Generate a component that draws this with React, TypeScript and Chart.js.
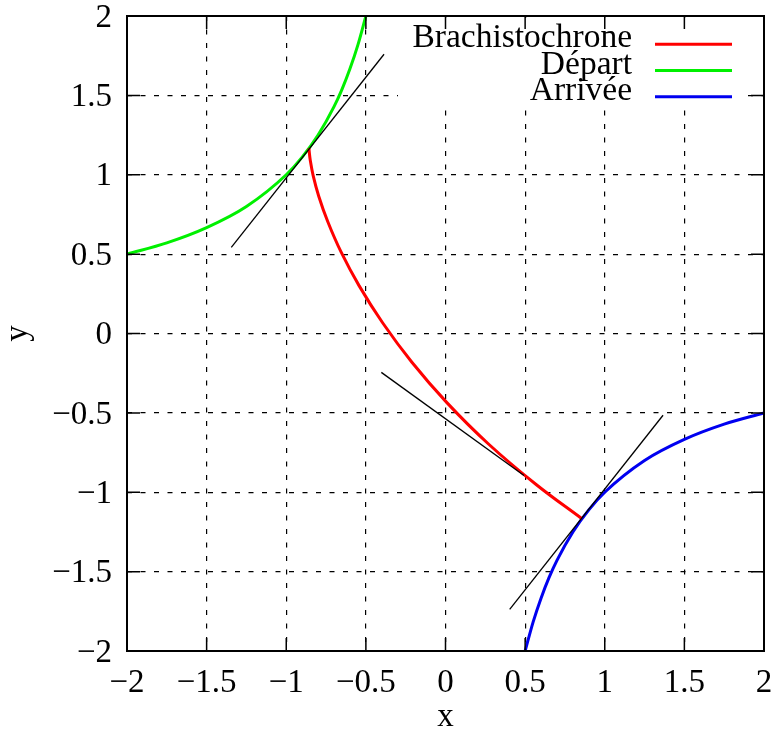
import React, { useEffect, useRef } from "react";
import { Chart, registerables } from "chart.js";

Chart.register(...registerables);

// ---- data ----
const xTickValues = [-2, -1.5, -1, -0.5, 0, 0.5, 1, 1.5, 2];
const yTickValues = [-2, -1.5, -1, -0.5, 0, 0.5, 1, 1.5, 2];
const seriesLabels = ["Brachistochrone", "Départ", "Arrivée"];
const seriesColors = ["#ff0000", "#00f000", "#0000f0"];

const brachX = [-0.857, -0.856, -0.849, -0.831, -0.796, -0.739, -0.656, -0.542, -0.394, -0.211, 0.01, 0.27, 0.569, 0.857];
const brachY = [1.167, 1.148, 1.09, 0.995, 0.865, 0.704, 0.514, 0.3, 0.066, -0.181, -0.437, -0.696, -0.951, -1.167];

const departX = [-2, -1.75, -1.5, -1.25, -1, -0.9, -0.8, -0.7, -0.65, -0.6, -0.55, -0.5];
const departY = [0.5, 0.571, 0.667, 0.8, 1.0, 1.111, 1.25, 1.429, 1.538, 1.667, 1.818, 2.0];

const arriveeX = [0.5, 0.55, 0.6, 0.65, 0.7, 0.8, 0.9, 1, 1.25, 1.5, 1.75, 2];
const arriveeY = [-2.0, -1.818, -1.667, -1.538, -1.429, -1.25, -1.111, -1.0, -0.8, -0.667, -0.571, -0.5];

const tangent1X = [-1.345, -0.386];
const tangent1Y = [0.542, 1.759];
const tangent2X = [-0.403, 0.493];
const tangent2Y = [-0.245, -0.895];
const tangent3X = [0.403, 1.366];
const tangent3Y = [-1.738, -0.515];

const FONT = "'Liberation Serif', 'Times New Roman', serif";

function pts(xs: number[], ys: number[]) {
  return xs.map((x, i) => ({ x, y: ys[i] }));
}

function fmt(v: number) {
  return v < 0 ? "\u2212" + String(Math.abs(v)) : String(v);
}

const framePlugin = {
  id: "gnuframe",
  beforeDatasetsDraw(chart: any) {
    const { ctx } = chart;
    ctx.save();
    ctx.fillStyle = "#ffffff";
    ctx.fillRect(398, 18, 350, 90);
    ctx.restore();
  },
  afterDatasetsDraw(chart: any) {
    const { ctx, chartArea: a, scales } = chart;
    const xs = scales.x;
    const ys = scales.y;
    const TL = 13;
    ctx.save();
    ctx.strokeStyle = "#000";
    ctx.lineWidth = 1.5;
    ctx.beginPath();
    xs.ticks.forEach((t: any) => {
      const px = xs.getPixelForValue(t.value);
      ctx.moveTo(px, a.bottom);
      ctx.lineTo(px, a.bottom - TL);
      ctx.moveTo(px, a.top);
      ctx.lineTo(px, a.top + TL);
    });
    ys.ticks.forEach((t: any) => {
      const py = ys.getPixelForValue(t.value);
      ctx.moveTo(a.left, py);
      ctx.lineTo(a.left + TL, py);
      ctx.moveTo(a.right, py);
      ctx.lineTo(a.right - TL, py);
    });
    ctx.stroke();
    ctx.lineWidth = 2;
    ctx.strokeRect(a.left, a.top, a.right - a.left, a.bottom - a.top);

    // legend
    ctx.font = "33.5px " + FONT;
    ctx.textAlign = "right";
    ctx.textBaseline = "alphabetic";
    seriesLabels.forEach((lab, i) => {
      const yRow = 44.3 + i * 26.2;
      ctx.fillStyle = "#000";
      ctx.fillText(lab, 632, yRow + 3);
      ctx.strokeStyle = seriesColors[i];
      ctx.lineWidth = 3;
      ctx.beginPath();
      ctx.moveTo(655, yRow);
      ctx.lineTo(732, yRow);
      ctx.stroke();
    });
    ctx.restore();
  },
};

export default function App() {
  const ref = useRef<HTMLCanvasElement | null>(null);

  useEffect(() => {
    if (!ref.current) return;
    const curve = (data: any[], color: string, label: string, mono: boolean) => ({
      label,
      data,
      showLine: true,
      borderColor: color,
      backgroundColor: color,
      borderWidth: 3,
      pointRadius: 0,
      fill: false,
      tension: 0.4,
      cubicInterpolationMode: mono ? ("monotone" as const) : ("default" as const),
    });
    const tangent = (data: any[]) => ({
      label: "",
      data,
      showLine: true,
      borderColor: "#000",
      backgroundColor: "#000",
      borderWidth: 1.3,
      pointRadius: 0,
      fill: false,
    });
    const noPad = (s: any) => {
      s.paddingTop = 0;
      s.paddingBottom = 0;
      s.paddingLeft = 0;
      s.paddingRight = 0;
    };
    const chart = new Chart(ref.current, {
      type: "scatter",
      data: {
        datasets: [
          tangent(pts(tangent1X, tangent1Y)),
          tangent(pts(tangent2X, tangent2Y)),
          tangent(pts(tangent3X, tangent3Y)),
          curve(pts(brachX, brachY), seriesColors[0], seriesLabels[0], false),
          curve(pts(departX, departY), seriesColors[1], seriesLabels[1], true),
          curve(pts(arriveeX, arriveeY), seriesColors[2], seriesLabels[2], true),
        ],
      },
      options: {
        animation: false,
        responsive: false,
        devicePixelRatio: 1,
        layout: { padding: { top: 16, right: 10, left: 0, bottom: 0 } },
        plugins: { legend: { display: false }, tooltip: { enabled: false } },
        scales: {
          x: {
            type: "linear",
            min: -2,
            max: 2,
            afterBuildTicks: (s: any) => {
              s.ticks = xTickValues.map((v) => ({ value: v }));
            },
            afterFit: (s: any) => {
              s.height = 84;
              noPad(s);
            },
            grid: {
              color: "#000",
              lineWidth: 1.2,
              drawTicks: false,
            },
            border: { display: false, dash: [5, 8.5] },
            ticks: {
              color: "#000",
              padding: 13,
              maxRotation: 0,
              autoSkip: false,
              font: { family: FONT, size: 33 },
              callback: (v: any) => fmt(Number(v)),
            },
            title: {
              display: true,
              text: "x",
              color: "#000",
              font: { family: FONT, size: 33, lineHeight: 1.1 },
              padding: 0,
            },
          },
          y: {
            type: "linear",
            min: -2,
            max: 2,
            afterBuildTicks: (s: any) => {
              s.ticks = yTickValues.map((v) => ({ value: v }));
            },
            afterFit: (s: any) => {
              s.width = 127;
              noPad(s);
            },
            grid: {
              color: "#000",
              lineWidth: 1.2,
              drawTicks: false,
            },
            border: { display: false, dash: [5, 8.5] },
            ticks: {
              color: "#000",
              padding: 15,
              autoSkip: false,
              labelOffset: 2,
              font: { family: FONT, size: 33 },
              callback: (v: any) => fmt(Number(v)),
            },
            title: {
              display: true,
              text: "y",
              color: "#000",
              font: { family: FONT, size: 33, lineHeight: 1.1 },
              padding: 0,
            },
          },
        },
      } as any,
      plugins: [framePlugin],
    });
    return () => chart.destroy();
  }, []);

  return (
    <div style={{ position: "fixed", left: 0, top: 0, width: 774, height: 735, background: "#fff" }}>
      <canvas ref={ref} width={774} height={735} style={{ display: "block" }} />
    </div>
  );
}
